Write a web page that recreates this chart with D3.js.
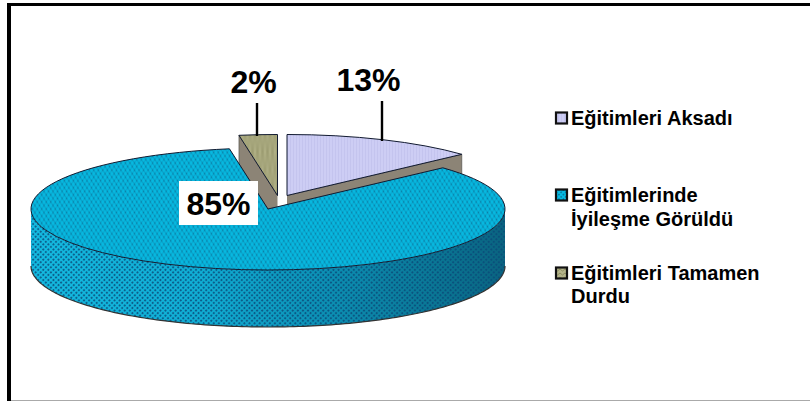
<!DOCTYPE html>
<html><head><meta charset="utf-8">
<script src="https://cdn.jsdelivr.net/npm/d3@7/dist/d3.min.js"></script>
<style>html,body{margin:0;padding:0;background:#fff}svg{display:block}</style>
</head><body><svg id="c" width="810" height="401"></svg>
<script>
const categories=["Eğitimleri Aksadı","Eğitimlerinde İyileşme Görüldü","Eğitimleri Tamamen Durdu"];
const values=[13.2,84.2,2.6];
const percentLabels=["13%","85%","2%"];
const legendLines=[["Eğitimleri Aksadı"],["Eğitimlerinde","İyileşme Görüldü"],["Eğitimleri Tamamen","Durdu"]];
const rx=237, ry=61, depth=57;
const centres=[[287,195.5],[268,209],[277.5,195.5]];
const topFills=["url(#pLilac)","url(#pTeal)","url(#pOlive)"];
const svg=d3.select("#c");
const defs=svg.append("defs");
function dots(id,base,dot,size,r){
  const p=defs.append("pattern").attr("id",id).attr("width",size).attr("height",size).attr("patternUnits","userSpaceOnUse").attr("patternTransform","rotate(45)");
  p.append("rect").attr("width",size).attr("height",size).attr("fill",base);
  p.append("circle").attr("cx",size/2).attr("cy",size/2).attr("r",r).attr("fill",dot);
}
dots("pTeal","#06bce4","#0b7fa6",3.2,0.95);
const ov=defs.append("pattern").attr("id","pWall").attr("width",3.6).attr("height",3.6).attr("patternUnits","userSpaceOnUse").attr("patternTransform","rotate(45)");
ov.append("circle").attr("cx",1.8).attr("cy",1.8).attr("r",1.1).attr("fill","#0a4a78").attr("opacity",0.8);
const pl=defs.append("pattern").attr("id","pLilac").attr("width",3).attr("height",3).attr("patternUnits","userSpaceOnUse");
pl.append("rect").attr("width",3).attr("height",3).attr("fill","#cdcdf4");
pl.append("rect").attr("width",1).attr("height",3).attr("fill","#c4c4ee");
const po=defs.append("pattern").attr("id","pOlive").attr("width",5).attr("height",4).attr("patternUnits","userSpaceOnUse");
po.append("rect").attr("width",5).attr("height",4).attr("fill","#b4b48a");
po.append("path").attr("d","M0 1L2.5 3L5 1").attr("fill","none").attr("stroke","#8c8c60").attr("stroke-width",1);
const g=defs.append("linearGradient").attr("id","gWall").attr("gradientUnits","userSpaceOnUse").attr("x1",30).attr("x2",505).attr("y1",0).attr("y2",0);
[[0,"#14bce2"],[0.35,"#10b0d6"],[0.6,"#0c94b8"],[0.85,"#0a7896"],[1,"#0a6480"]].forEach(s=>g.append("stop").attr("offset",s[0]).attr("stop-color",s[1]));

const arcs=d3.pie().sort(null).startAngle(0).endAngle(2*Math.PI)(values);
const arcGen=d3.arc().innerRadius(0).outerRadius(rx);
const px=(i,a,r=rx)=>centres[i][0]+Math.sin(a)*r;
const py=(i,a,r=rx)=>centres[i][1]-Math.cos(a)*r*ry/rx;
function drawTop(i){
  svg.append("path").attr("transform",`translate(${centres[i]}) scale(1,${ry/rx})`)
    .attr("d",arcGen(arcs[i])).attr("fill",topFills[i]).attr("stroke","#111a30")
    .attr("stroke-width",1).attr("vector-effect","non-scaling-stroke");
}
function radialWall(i,a){
  const p0=[centres[i][0],centres[i][1]],p1=[px(i,a),py(i,a)];
  svg.append("path").attr("d",d3.line()([p0,p1,[p1[0],p1[1]+depth],[p0[0],p0[1]+depth]])).attr("fill","#8c8476").attr("stroke","#4a4a44").attr("stroke-width",0.6);
}
radialWall(0,arcs[0].endAngle);
radialWall(2,arcs[2].startAngle);
drawTop(0);drawTop(2);
const as=d3.range(Math.PI/2,3*Math.PI/2+0.001,0.02);
const wall=[...as.map(a=>[px(1,a),py(1,a)]),...as.slice().reverse().map(a=>[px(1,a),py(1,a)+depth])];
const wallD=d3.line()(wall)+"Z";
svg.append("path").attr("d",wallD).attr("fill","url(#gWall)");
svg.append("path").attr("d",wallD).attr("fill","url(#pWall)");
svg.append("path").attr("d",d3.line()(as.map(a=>[px(1,a),py(1,a)+depth]))).attr("fill","none").attr("stroke","#333").attr("stroke-width",1.2);
drawTop(1);

svg.append("rect").attr("x",7).attr("y",3).attr("width",4).attr("height",398).attr("fill","#000");
svg.append("rect").attr("x",7).attr("y",3).attr("width",803).attr("height",3).attr("fill","#000");
svg.append("rect").attr("x",11).attr("y",400).attr("width",799).attr("height",1).attr("fill","#aaa");

const lead=[[382,101,141],[],[257,103,136]];
[0,2].forEach(i=>svg.append("line").attr("x1",lead[i][0]).attr("x2",lead[i][0]).attr("y1",lead[i][1]).attr("y2",lead[i][2]).attr("stroke","#000").attr("stroke-width",2.4));

svg.append("rect").attr("x",179).attr("y",181).attr("width",79).attr("height",44).attr("fill","#fff");
const font="'Liberation Sans',Arial,sans-serif";
const lab=[[368.5,91],[218.5,215],[253.5,92.5]];
percentLabels.forEach((t,i)=>svg.append("text").attr("x",lab[i][0]).attr("y",lab[i][1]).attr("text-anchor","middle").attr("font-family",font).attr("font-weight",700).attr("font-size",32).attr("fill","#000").text(t));

const legY=[[125],[202,226],[280,303]];
const swatch=["url(#pLilac)","url(#pTeal)","url(#pOlive)"];
const swY=[112.5,189.5,267.5];
categories.forEach((c,i)=>{
  svg.append("rect").attr("x",556).attr("y",swY[i]).attr("width",11).attr("height",11).attr("fill",swatch[i]).attr("stroke","#111").attr("stroke-width",2.2);
  legendLines[i].forEach((l,j)=>svg.append("text").attr("x",571).attr("y",legY[i][j]).attr("font-family",font).attr("font-weight",700).attr("font-size",20).attr("fill","#000").text(l));
});
</script></body></html>
